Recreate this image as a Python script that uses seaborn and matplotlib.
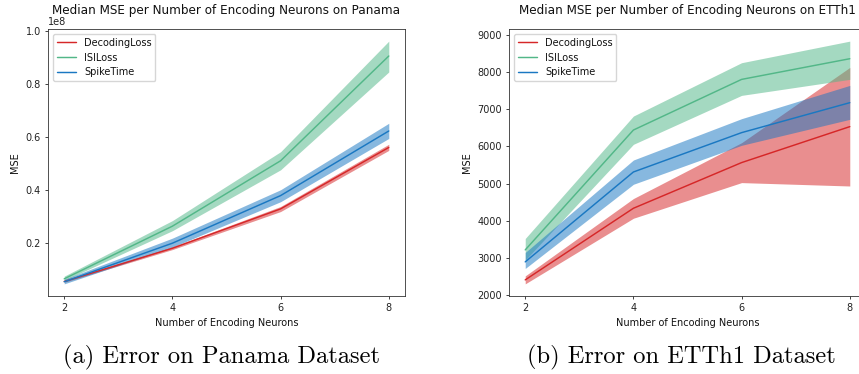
import matplotlib
matplotlib.use("Agg")
import matplotlib.pyplot as plt
import seaborn as sns
import pandas as pd

# ---------------- data ----------------
neurons = [2, 4, 6, 8]
series_names = ["DecodingLoss", "ISILoss", "SpikeTime"]

# Panama (MSE in units of 1e8)
panama_decoding_med = [0.056, 0.181, 0.329, 0.560]
panama_decoding_lo = [0.053, 0.176, 0.319, 0.549]
panama_decoding_hi = [0.059, 0.186, 0.338, 0.572]
panama_isi_med = [0.066, 0.264, 0.510, 0.904]
panama_isi_lo = [0.060, 0.247, 0.476, 0.844]
panama_isi_hi = [0.076, 0.285, 0.544, 0.960]
panama_spike_med = [0.055, 0.200, 0.379, 0.622]
panama_spike_lo = [0.047, 0.185, 0.356, 0.594]
panama_spike_hi = [0.064, 0.219, 0.401, 0.651]

# ETTh1
etth_decoding_med = [2418, 4340, 5566, 6531]
etth_decoding_lo = [2311, 4072, 5029, 4938]
etth_decoding_hi = [2525, 4601, 6100, 8120]
etth_isi_med = [3223, 6440, 7799, 8354]
etth_isi_lo = [2950, 6056, 7370, 7800]
etth_isi_hi = [3528, 6815, 8247, 8826]
etth_spike_med = [2901, 5314, 6370, 7174]
etth_spike_lo = [2724, 4984, 6030, 6727]
etth_spike_hi = [3153, 5635, 6745, 7638]

titles = ["Median MSE per Number of Encoding Neurons on Panama",
          "Median MSE per Number of Encoding Neurons on ETTh1"]
captions = ["(a) Error on Panama Dataset", "(b) Error on ETTh1 Dataset"]
xlabel = "Number of Encoding Neurons"
ylabel = "MSE"
colors = {"DecodingLoss": "#d62728", "ISILoss": "#52b788", "SpikeTime": "#1a78c2"}


def long_frame(groups, scale=1.0):
    rows = []
    for name, (med, lo, hi) in zip(series_names, groups):
        for x, m, l, h in zip(neurons, med, lo, hi):
            for v in (l, m, h):
                rows.append({"neurons": x, "mse": v * scale, "loss": name})
    return pd.DataFrame(rows)


df_panama = long_frame([
    (panama_decoding_med, panama_decoding_lo, panama_decoding_hi),
    (panama_isi_med, panama_isi_lo, panama_isi_hi),
    (panama_spike_med, panama_spike_lo, panama_spike_hi),
], scale=1e8)
df_etth = long_frame([
    (etth_decoding_med, etth_decoding_lo, etth_decoding_hi),
    (etth_isi_med, etth_isi_lo, etth_isi_hi),
    (etth_spike_med, etth_spike_lo, etth_spike_hi),
])

# ---------------- style ----------------
sns.set_theme(style="white")
plt.rcParams.update({
    "font.family": ["DejaVu Sans"],
    "font.size": 7,
    "axes.titlesize": 8.65,
    "axes.labelsize": 7,
    "xtick.labelsize": 7,
    "ytick.labelsize": 7,
    "legend.fontsize": 7,
    "axes.edgecolor": "#333333",
    "axes.linewidth": 0.6,
    "xtick.bottom": True,
    "ytick.left": True,
    "xtick.major.size": 2.5,
    "ytick.major.size": 2.5,
    "xtick.major.width": 0.6,
    "ytick.major.width": 0.6,
    "xtick.major.pad": 2.5,
    "ytick.major.pad": 2.5,
    "xtick.color": "#222222",
    "ytick.color": "#222222",
    "text.color": "#111111",
    "axes.labelcolor": "#111111",
    "lines.linewidth": 1.05,
    "legend.frameon": True,
})

fig = plt.figure(figsize=(8.59, 3.74), dpi=100)
ax1 = fig.add_axes([48 / 859, 1 - 296 / 374, 357 / 859, 267 / 374])
ax2 = fig.add_axes([509 / 859, 1 - 296 / 374, 357 / 859, 267 / 374])

for ax, df, title in [(ax1, df_panama, titles[0]), (ax2, df_etth, titles[1])]:
    sns.lineplot(data=df, x="neurons", y="mse", hue="loss", hue_order=series_names,
                 palette=colors, estimator="median", errorbar=("pi", 100),
                 err_kws={"alpha": 0.52, "linewidth": 0}, ax=ax, linewidth=1.05)
    ax.set_xticks(neurons)
    ax.set_title(title, pad=11.0, y=1.0)
    ax.set_xlabel(xlabel)
    ax.set_ylabel(ylabel)
    leg = ax.legend(loc="upper left", fancybox=True, framealpha=0.8,
                    edgecolor="#cccccc", handlelength=2.0)
    for s in ax.spines.values():
        s.set_visible(True)
        s.set_color("#333333")
        s.set_linewidth(0.6)

ax1.ticklabel_format(axis="y", style="sci", scilimits=(0, 0), useMathText=False)

cap_font = dict(family="cmr10", size=17.6, color="black", ha="center", va="center")
fig.text(221 / 859, 1 - 357 / 374, captions[0], **cap_font)
fig.text(681 / 859, 1 - 357 / 374, captions[1], **cap_font)

fig.savefig("out.png", dpi=100)
